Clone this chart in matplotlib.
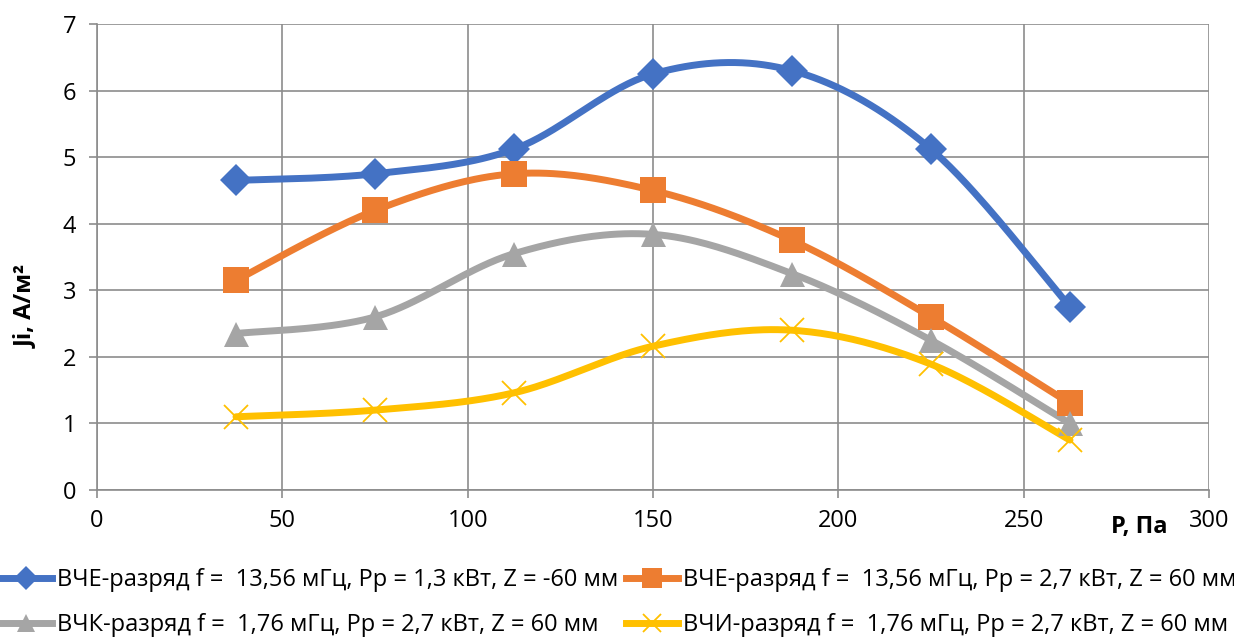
import numpy as np
import matplotlib.pyplot as plt
from matplotlib.lines import Line2D

plt.rcParams['font.family'] = ['Open Sans', 'DejaVu Sans']

pressure = [37.5, 75, 112.5, 150, 187.5, 225, 262.5]
vche_1 = [4.65, 4.75, 5.12, 6.25, 6.30, 5.12, 2.75]
vche_2 = [3.15, 4.20, 4.75, 4.50, 3.75, 2.60, 1.30]
vchk = [2.35, 2.60, 3.55, 3.84, 3.25, 2.25, 1.00]
vchi = [1.10, 1.20, 1.46, 2.16, 2.40, 1.89, 0.75]

labels = [
    'ВЧЕ-разряд f =  13,56 мГц, Pp = 1,3 кВт, Z = -60 мм',
    'ВЧЕ-разряд f =  13,56 мГц, Pp = 2,7 кВт, Z = 60 мм',
    'ВЧК-разряд f =  1,76 мГц, Pp = 2,7 кВт, Z = 60 мм',
    'ВЧИ-разряд f =  1,76 мГц, Pp = 2,7 кВт, Z = 60 мм',
]
colors = ['#4472C4', '#ED7D31', '#A5A5A5', '#FFC000']
markers = ['D', 's', '^', 'x']
msizes = [16, 18.5, 18, 17.5]


def smooth(x, y, n=40):
    # bezier smoothing like Excel's "smoothed line"
    x = np.asarray(x, float)
    y = np.asarray(y, float)
    px = np.concatenate([[x[0]], x, [x[-1]]])
    py = np.concatenate([[y[0]], y, [y[-1]]])
    t = np.linspace(0, 1, n)[:, None]
    xs, ys = [], []
    for i in range(1, len(px) - 2):
        p0 = np.array([px[i], py[i]])
        p3 = np.array([px[i + 1], py[i + 1]])
        c1 = p0 + (np.array([px[i + 1], py[i + 1]]) - np.array([px[i - 1], py[i - 1]])) / 6
        c2 = p3 - (np.array([px[i + 2], py[i + 2]]) - p0) / 6
        b = ((1 - t) ** 3) * p0 + 3 * ((1 - t) ** 2) * t * c1 + 3 * (1 - t) * t ** 2 * c2 + t ** 3 * p3
        xs.append(b[:, 0])
        ys.append(b[:, 1])
    return np.concatenate(xs), np.concatenate(ys)


fig = plt.figure(figsize=(12.34, 6.37), dpi=100)
ax = fig.add_axes([97 / 1234, 147 / 637, 1112 / 1234, 466 / 637])

handles = []
for i, series in enumerate([vche_1, vche_2, vchk, vchi]):
    sx, sy = smooth(pressure, series)
    ax.plot(sx, sy, color=colors[i], linewidth=5, solid_capstyle='round', zorder=3)
    mew = 1.3 if markers[i] == 'x' else 0
    ax.plot(pressure, series, linestyle='none', marker=markers[i], markersize=msizes[i],
            color=colors[i], markeredgewidth=mew, zorder=4)
    handles.append(Line2D([], [], color=colors[i], linewidth=5, marker=markers[i],
                          markersize=msizes[i] * 0.75, markeredgewidth=mew))

ax.set_xlim(0, 300)
ax.set_ylim(0, 7)
ax.set_xticks(range(0, 301, 50))
ax.set_yticks(range(0, 8))
ax.grid(True, color='#8c8c8c', linewidth=1.2)
ax.set_axisbelow(True)
for s in ['top', 'right']:
    ax.spines[s].set_visible(False)
for s in ['left', 'bottom']:
    ax.spines[s].set_color('#8c8c8c')
    ax.spines[s].set_linewidth(1.2)
ax.tick_params(axis='both', labelsize=17, color='#8c8c8c', length=6, width=1.2, pad=9)
ax.tick_params(axis='x', pad=8)

ax.set_ylabel('Ji, А/м²', fontsize=17, fontweight='bold')
ax.yaxis.set_label_coords((38 - 97) / 1112, (490 - 306) / 466)
ax.text(1139 / 1234, (637 - 527) / 637, 'P, Па', transform=fig.transFigure,
        fontsize=17, fontweight='bold', ha='center', va='center')

# row-major order like the reference legend
order = [0, 2, 1, 3]
fig.legend([handles[k] for k in order], [labels[k] for k in order],
           loc='upper left', bbox_to_anchor=(0.0, (637 - 568) / 637), ncol=2,
           frameon=False, fontsize=17, handlelength=2.2, handletextpad=0.2,
           columnspacing=0.35, labelspacing=0.88, borderaxespad=0, borderpad=0)

plt.savefig('out.png', dpi=100)
